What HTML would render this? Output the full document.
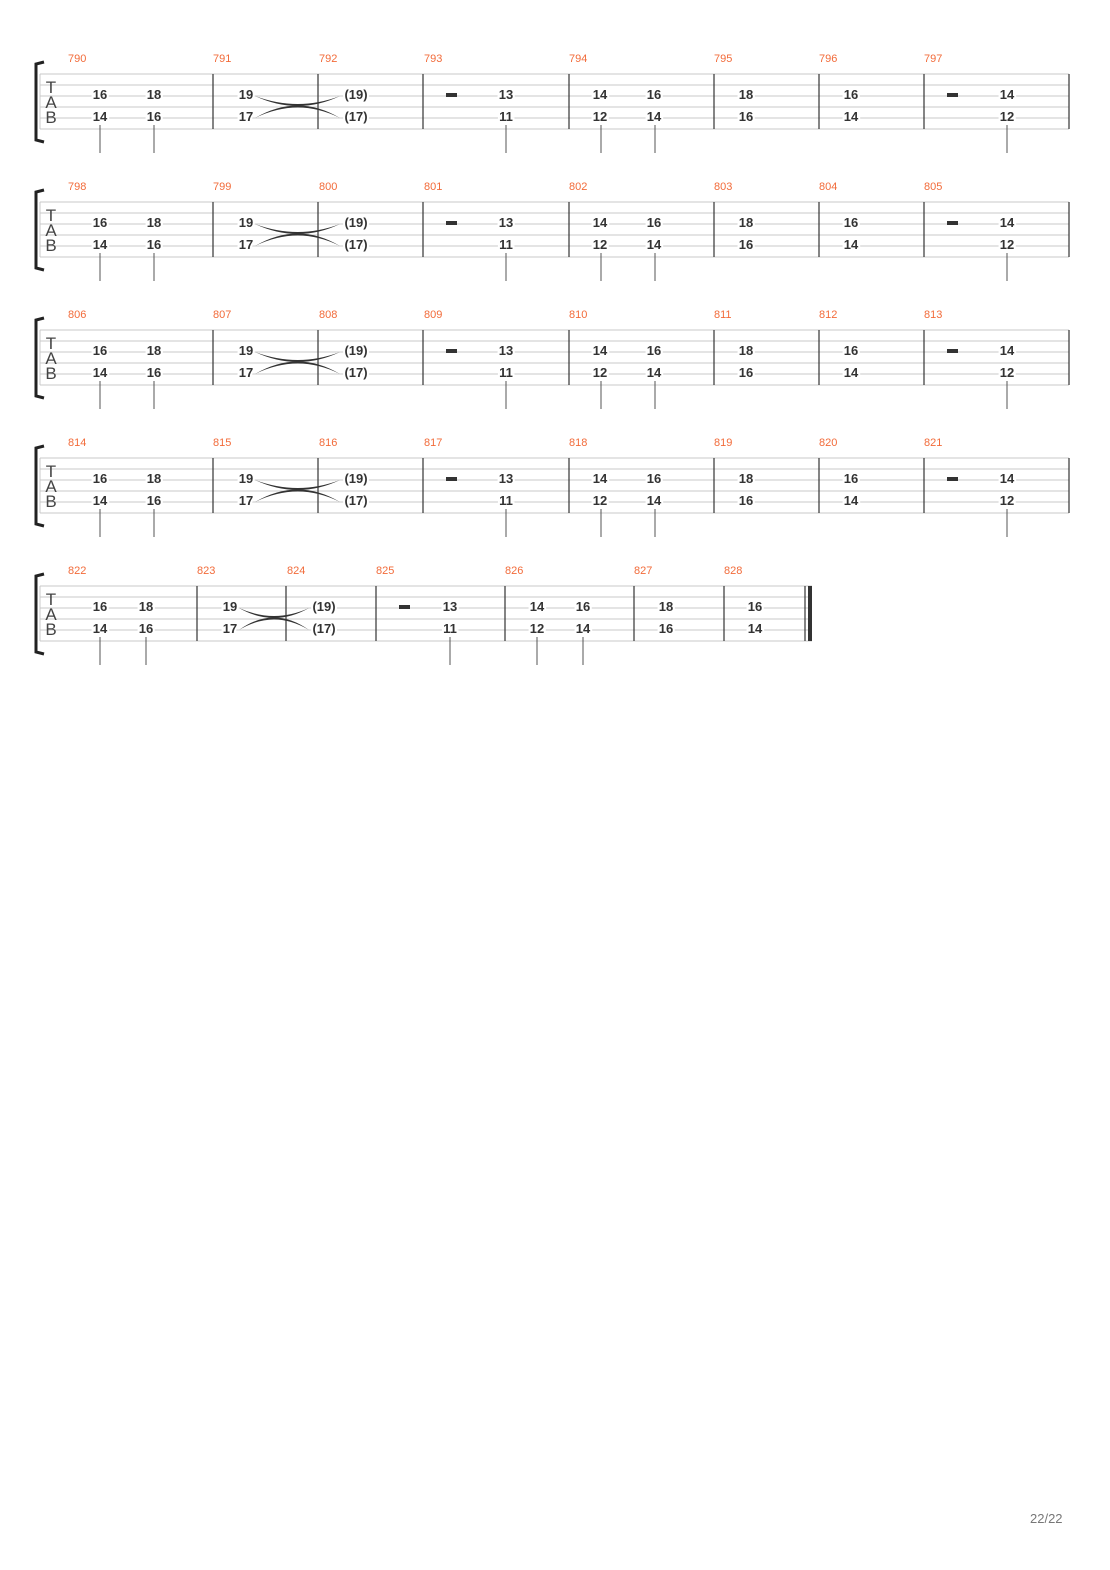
<!DOCTYPE html>
<html><head><meta charset="utf-8"><style>
html,body{margin:0;padding:0;background:#fff;}
svg{display:block;}
.n{font-family:"Liberation Sans",sans-serif;font-size:13px;font-weight:bold;fill:#333;text-anchor:middle;stroke:#fff;stroke-width:4px;paint-order:stroke;}
.m{font-family:"Liberation Sans",sans-serif;font-size:11px;fill:#f26b3a;}
.tab{font-family:"Liberation Sans",sans-serif;font-size:17px;fill:#444;text-anchor:middle;}
.l{stroke:#c8c8c8;stroke-width:1;}
.b{stroke:#333;stroke-width:1.2;}
.s{stroke:#555;stroke-width:1;}
</style></head><body>
<svg width="1110" height="1570" viewBox="0 0 1110 1570" xmlns="http://www.w3.org/2000/svg">
<!-- SYSTEM 1 -->
<g>
<path d="M44 62 L36 64 L36 140 L44 142" fill="none" stroke="#222" stroke-width="3"/>
<g class="l"><line x1="40" y1="74" x2="1069" y2="74"/><line x1="40" y1="85" x2="1069" y2="85"/><line x1="40" y1="96" x2="1069" y2="96"/><line x1="40" y1="107" x2="1069" y2="107"/><line x1="40" y1="118" x2="1069" y2="118"/><line x1="40" y1="129" x2="1069" y2="129"/><line x1="40" y1="74" x2="40" y2="129"/></g>
<text class="tab" x="51" y="93">T</text><text class="tab" x="51" y="108">A</text><text class="tab" x="51" y="123">B</text>
<g class="b"><line x1="213" y1="74" x2="213" y2="129"/><line x1="318" y1="74" x2="318" y2="129"/><line x1="423" y1="74" x2="423" y2="129"/><line x1="569" y1="74" x2="569" y2="129"/><line x1="714" y1="74" x2="714" y2="129"/><line x1="819" y1="74" x2="819" y2="129"/><line x1="924" y1="74" x2="924" y2="129"/><line x1="1069" y1="74" x2="1069" y2="129"/></g>
<text class="m" x="68" y="62">790</text><text class="m" x="213" y="62">791</text><text class="m" x="319" y="62">792</text><text class="m" x="424" y="62">793</text><text class="m" x="569" y="62">794</text><text class="m" x="714" y="62">795</text><text class="m" x="819" y="62">796</text><text class="m" x="924" y="62">797</text>
<path d="M255 96 Q298 116 340 96 Q298 112 255 96Z" fill="#333"/><path d="M255 118 Q298 93 340 118 Q298 97 255 118Z" fill="#333"/>
<text class="n" x="100" y="99">16</text><text class="n" x="100" y="121">14</text><text class="n" x="154" y="99">18</text><text class="n" x="154" y="121">16</text>
<text class="n" x="246" y="99">19</text><text class="n" x="246" y="121">17</text><text class="n" x="356" y="99">(19)</text><text class="n" x="356" y="121">(17)</text>
<rect x="446" y="93" width="11" height="4" fill="#333"/><text class="n" x="506" y="99">13</text><text class="n" x="506" y="121">11</text>
<text class="n" x="600" y="99">14</text><text class="n" x="600" y="121">12</text><text class="n" x="654" y="99">16</text><text class="n" x="654" y="121">14</text>
<text class="n" x="746" y="99">18</text><text class="n" x="746" y="121">16</text><text class="n" x="851" y="99">16</text><text class="n" x="851" y="121">14</text>
<rect x="947" y="93" width="11" height="4" fill="#333"/><text class="n" x="1007" y="99">14</text><text class="n" x="1007" y="121">12</text>
<g class="s"><line x1="100" y1="125" x2="100" y2="153"/><line x1="154" y1="125" x2="154" y2="153"/><line x1="506" y1="125" x2="506" y2="153"/><line x1="601" y1="125" x2="601" y2="153"/><line x1="655" y1="125" x2="655" y2="153"/><line x1="1007" y1="125" x2="1007" y2="153"/></g>
</g>
<!-- SYSTEM 2 -->
<g transform="translate(0,128)">
<path d="M44 62 L36 64 L36 140 L44 142" fill="none" stroke="#222" stroke-width="3"/>
<g class="l"><line x1="40" y1="74" x2="1069" y2="74"/><line x1="40" y1="85" x2="1069" y2="85"/><line x1="40" y1="96" x2="1069" y2="96"/><line x1="40" y1="107" x2="1069" y2="107"/><line x1="40" y1="118" x2="1069" y2="118"/><line x1="40" y1="129" x2="1069" y2="129"/><line x1="40" y1="74" x2="40" y2="129"/></g>
<text class="tab" x="51" y="93">T</text><text class="tab" x="51" y="108">A</text><text class="tab" x="51" y="123">B</text>
<g class="b"><line x1="213" y1="74" x2="213" y2="129"/><line x1="318" y1="74" x2="318" y2="129"/><line x1="423" y1="74" x2="423" y2="129"/><line x1="569" y1="74" x2="569" y2="129"/><line x1="714" y1="74" x2="714" y2="129"/><line x1="819" y1="74" x2="819" y2="129"/><line x1="924" y1="74" x2="924" y2="129"/><line x1="1069" y1="74" x2="1069" y2="129"/></g>
<text class="m" x="68" y="62">798</text><text class="m" x="213" y="62">799</text><text class="m" x="319" y="62">800</text><text class="m" x="424" y="62">801</text><text class="m" x="569" y="62">802</text><text class="m" x="714" y="62">803</text><text class="m" x="819" y="62">804</text><text class="m" x="924" y="62">805</text>
<path d="M255 96 Q298 116 340 96 Q298 112 255 96Z" fill="#333"/><path d="M255 118 Q298 93 340 118 Q298 97 255 118Z" fill="#333"/>
<text class="n" x="100" y="99">16</text><text class="n" x="100" y="121">14</text><text class="n" x="154" y="99">18</text><text class="n" x="154" y="121">16</text>
<text class="n" x="246" y="99">19</text><text class="n" x="246" y="121">17</text><text class="n" x="356" y="99">(19)</text><text class="n" x="356" y="121">(17)</text>
<rect x="446" y="93" width="11" height="4" fill="#333"/><text class="n" x="506" y="99">13</text><text class="n" x="506" y="121">11</text>
<text class="n" x="600" y="99">14</text><text class="n" x="600" y="121">12</text><text class="n" x="654" y="99">16</text><text class="n" x="654" y="121">14</text>
<text class="n" x="746" y="99">18</text><text class="n" x="746" y="121">16</text><text class="n" x="851" y="99">16</text><text class="n" x="851" y="121">14</text>
<rect x="947" y="93" width="11" height="4" fill="#333"/><text class="n" x="1007" y="99">14</text><text class="n" x="1007" y="121">12</text>
<g class="s"><line x1="100" y1="125" x2="100" y2="153"/><line x1="154" y1="125" x2="154" y2="153"/><line x1="506" y1="125" x2="506" y2="153"/><line x1="601" y1="125" x2="601" y2="153"/><line x1="655" y1="125" x2="655" y2="153"/><line x1="1007" y1="125" x2="1007" y2="153"/></g>
</g>
<!-- SYSTEM 3 -->
<g transform="translate(0,256)">
<path d="M44 62 L36 64 L36 140 L44 142" fill="none" stroke="#222" stroke-width="3"/>
<g class="l"><line x1="40" y1="74" x2="1069" y2="74"/><line x1="40" y1="85" x2="1069" y2="85"/><line x1="40" y1="96" x2="1069" y2="96"/><line x1="40" y1="107" x2="1069" y2="107"/><line x1="40" y1="118" x2="1069" y2="118"/><line x1="40" y1="129" x2="1069" y2="129"/><line x1="40" y1="74" x2="40" y2="129"/></g>
<text class="tab" x="51" y="93">T</text><text class="tab" x="51" y="108">A</text><text class="tab" x="51" y="123">B</text>
<g class="b"><line x1="213" y1="74" x2="213" y2="129"/><line x1="318" y1="74" x2="318" y2="129"/><line x1="423" y1="74" x2="423" y2="129"/><line x1="569" y1="74" x2="569" y2="129"/><line x1="714" y1="74" x2="714" y2="129"/><line x1="819" y1="74" x2="819" y2="129"/><line x1="924" y1="74" x2="924" y2="129"/><line x1="1069" y1="74" x2="1069" y2="129"/></g>
<text class="m" x="68" y="62">806</text><text class="m" x="213" y="62">807</text><text class="m" x="319" y="62">808</text><text class="m" x="424" y="62">809</text><text class="m" x="569" y="62">810</text><text class="m" x="714" y="62">811</text><text class="m" x="819" y="62">812</text><text class="m" x="924" y="62">813</text>
<path d="M255 96 Q298 116 340 96 Q298 112 255 96Z" fill="#333"/><path d="M255 118 Q298 93 340 118 Q298 97 255 118Z" fill="#333"/>
<text class="n" x="100" y="99">16</text><text class="n" x="100" y="121">14</text><text class="n" x="154" y="99">18</text><text class="n" x="154" y="121">16</text>
<text class="n" x="246" y="99">19</text><text class="n" x="246" y="121">17</text><text class="n" x="356" y="99">(19)</text><text class="n" x="356" y="121">(17)</text>
<rect x="446" y="93" width="11" height="4" fill="#333"/><text class="n" x="506" y="99">13</text><text class="n" x="506" y="121">11</text>
<text class="n" x="600" y="99">14</text><text class="n" x="600" y="121">12</text><text class="n" x="654" y="99">16</text><text class="n" x="654" y="121">14</text>
<text class="n" x="746" y="99">18</text><text class="n" x="746" y="121">16</text><text class="n" x="851" y="99">16</text><text class="n" x="851" y="121">14</text>
<rect x="947" y="93" width="11" height="4" fill="#333"/><text class="n" x="1007" y="99">14</text><text class="n" x="1007" y="121">12</text>
<g class="s"><line x1="100" y1="125" x2="100" y2="153"/><line x1="154" y1="125" x2="154" y2="153"/><line x1="506" y1="125" x2="506" y2="153"/><line x1="601" y1="125" x2="601" y2="153"/><line x1="655" y1="125" x2="655" y2="153"/><line x1="1007" y1="125" x2="1007" y2="153"/></g>
</g>
<!-- SYSTEM 4 -->
<g transform="translate(0,384)">
<path d="M44 62 L36 64 L36 140 L44 142" fill="none" stroke="#222" stroke-width="3"/>
<g class="l"><line x1="40" y1="74" x2="1069" y2="74"/><line x1="40" y1="85" x2="1069" y2="85"/><line x1="40" y1="96" x2="1069" y2="96"/><line x1="40" y1="107" x2="1069" y2="107"/><line x1="40" y1="118" x2="1069" y2="118"/><line x1="40" y1="129" x2="1069" y2="129"/><line x1="40" y1="74" x2="40" y2="129"/></g>
<text class="tab" x="51" y="93">T</text><text class="tab" x="51" y="108">A</text><text class="tab" x="51" y="123">B</text>
<g class="b"><line x1="213" y1="74" x2="213" y2="129"/><line x1="318" y1="74" x2="318" y2="129"/><line x1="423" y1="74" x2="423" y2="129"/><line x1="569" y1="74" x2="569" y2="129"/><line x1="714" y1="74" x2="714" y2="129"/><line x1="819" y1="74" x2="819" y2="129"/><line x1="924" y1="74" x2="924" y2="129"/><line x1="1069" y1="74" x2="1069" y2="129"/></g>
<text class="m" x="68" y="62">814</text><text class="m" x="213" y="62">815</text><text class="m" x="319" y="62">816</text><text class="m" x="424" y="62">817</text><text class="m" x="569" y="62">818</text><text class="m" x="714" y="62">819</text><text class="m" x="819" y="62">820</text><text class="m" x="924" y="62">821</text>
<path d="M255 96 Q298 116 340 96 Q298 112 255 96Z" fill="#333"/><path d="M255 118 Q298 93 340 118 Q298 97 255 118Z" fill="#333"/>
<text class="n" x="100" y="99">16</text><text class="n" x="100" y="121">14</text><text class="n" x="154" y="99">18</text><text class="n" x="154" y="121">16</text>
<text class="n" x="246" y="99">19</text><text class="n" x="246" y="121">17</text><text class="n" x="356" y="99">(19)</text><text class="n" x="356" y="121">(17)</text>
<rect x="446" y="93" width="11" height="4" fill="#333"/><text class="n" x="506" y="99">13</text><text class="n" x="506" y="121">11</text>
<text class="n" x="600" y="99">14</text><text class="n" x="600" y="121">12</text><text class="n" x="654" y="99">16</text><text class="n" x="654" y="121">14</text>
<text class="n" x="746" y="99">18</text><text class="n" x="746" y="121">16</text><text class="n" x="851" y="99">16</text><text class="n" x="851" y="121">14</text>
<rect x="947" y="93" width="11" height="4" fill="#333"/><text class="n" x="1007" y="99">14</text><text class="n" x="1007" y="121">12</text>
<g class="s"><line x1="100" y1="125" x2="100" y2="153"/><line x1="154" y1="125" x2="154" y2="153"/><line x1="506" y1="125" x2="506" y2="153"/><line x1="601" y1="125" x2="601" y2="153"/><line x1="655" y1="125" x2="655" y2="153"/><line x1="1007" y1="125" x2="1007" y2="153"/></g>
</g>
<!-- SYSTEM 5 -->
<g transform="translate(0,512)">
<path d="M44 62 L36 64 L36 140 L44 142" fill="none" stroke="#222" stroke-width="3"/>
<g class="l"><line x1="40" y1="74" x2="812" y2="74"/><line x1="40" y1="85" x2="812" y2="85"/><line x1="40" y1="96" x2="812" y2="96"/><line x1="40" y1="107" x2="812" y2="107"/><line x1="40" y1="118" x2="812" y2="118"/><line x1="40" y1="129" x2="812" y2="129"/><line x1="40" y1="74" x2="40" y2="129"/></g>
<text class="tab" x="51" y="93">T</text><text class="tab" x="51" y="108">A</text><text class="tab" x="51" y="123">B</text>
<g class="b"><line x1="197" y1="74" x2="197" y2="129"/><line x1="286" y1="74" x2="286" y2="129"/><line x1="376" y1="74" x2="376" y2="129"/><line x1="505" y1="74" x2="505" y2="129"/><line x1="634" y1="74" x2="634" y2="129"/><line x1="724" y1="74" x2="724" y2="129"/><line x1="805" y1="74" x2="805" y2="129"/></g>
<rect x="808" y="74" width="4" height="55" fill="#333"/>
<text class="m" x="68" y="62">822</text><text class="m" x="197" y="62">823</text><text class="m" x="287" y="62">824</text><text class="m" x="376" y="62">825</text><text class="m" x="505" y="62">826</text><text class="m" x="634" y="62">827</text><text class="m" x="724" y="62">828</text>
<path d="M239 96 Q274 116 309 96 Q274 112 239 96Z" fill="#333"/><path d="M239 118 Q274 93 309 118 Q274 97 239 118Z" fill="#333"/>
<text class="n" x="100" y="99">16</text><text class="n" x="100" y="121">14</text><text class="n" x="146" y="99">18</text><text class="n" x="146" y="121">16</text>
<text class="n" x="230" y="99">19</text><text class="n" x="230" y="121">17</text><text class="n" x="324" y="99">(19)</text><text class="n" x="324" y="121">(17)</text>
<rect x="399" y="93" width="11" height="4" fill="#333"/><text class="n" x="450" y="99">13</text><text class="n" x="450" y="121">11</text>
<text class="n" x="537" y="99">14</text><text class="n" x="537" y="121">12</text><text class="n" x="583" y="99">16</text><text class="n" x="583" y="121">14</text>
<text class="n" x="666" y="99">18</text><text class="n" x="666" y="121">16</text><text class="n" x="755" y="99">16</text><text class="n" x="755" y="121">14</text>
<g class="s"><line x1="100" y1="125" x2="100" y2="153"/><line x1="146" y1="125" x2="146" y2="153"/><line x1="450" y1="125" x2="450" y2="153"/><line x1="537" y1="125" x2="537" y2="153"/><line x1="583" y1="125" x2="583" y2="153"/></g>
</g>
<text x="1030" y="1523" font-family="Liberation Sans, sans-serif" font-size="13" fill="#777">22/22</text>
</svg>
</body></html>
